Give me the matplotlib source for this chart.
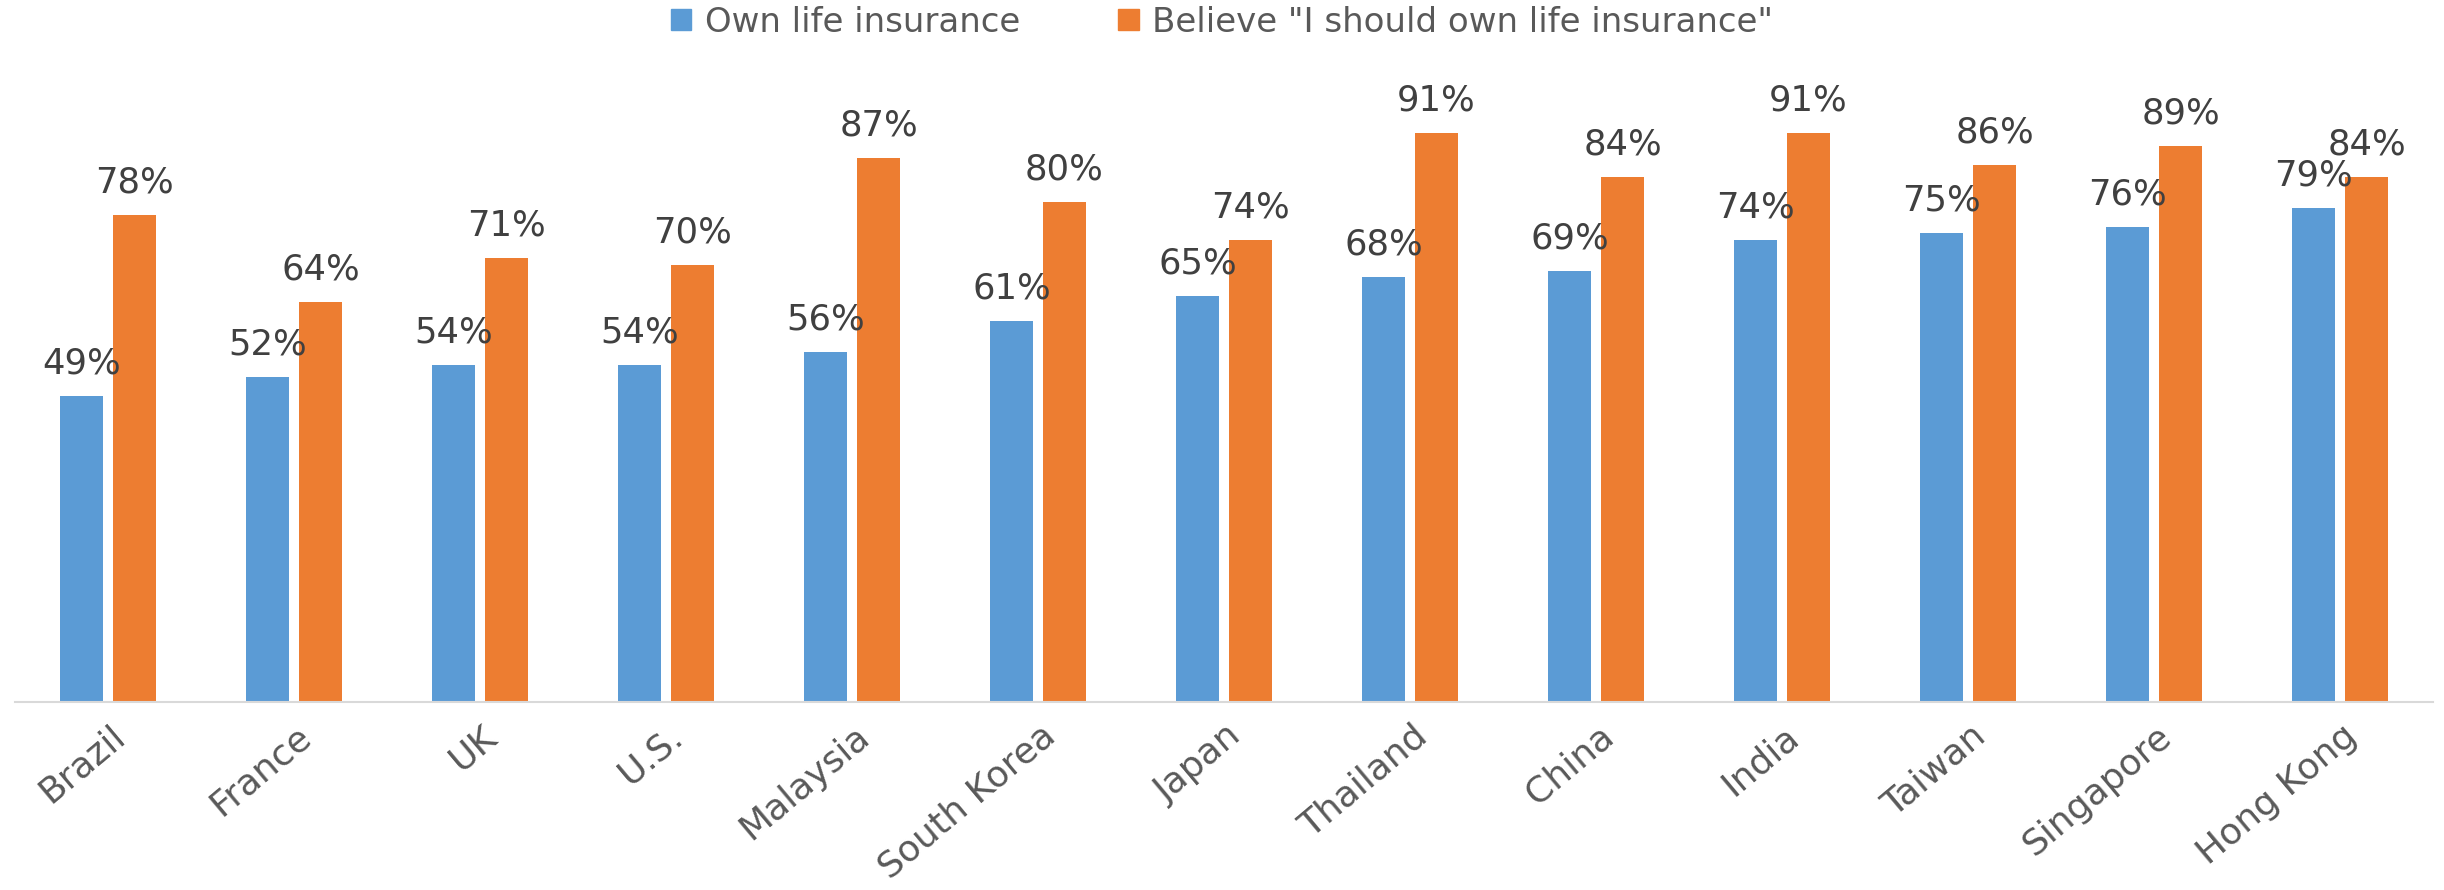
import numpy as np
import matplotlib
matplotlib.use('Agg')
from matplotlib import pyplot as plt
from matplotlib.patches import Patch
import matplotlib.transforms as mtransforms

plt.rcParams['font.family'] = ['DejaVu Sans']

countries = ['Brazil', 'France', 'UK', 'U.S.', 'Malaysia', 'South Korea', 'Japan',
             'Thailand', 'China', 'India', 'Taiwan', 'Singapore', 'Hong Kong']
own = [49, 52, 54, 54, 56, 61, 65, 68, 69, 74, 75, 76, 79]
believe = [78, 64, 71, 70, 87, 80, 74, 91, 84, 91, 86, 89, 84]
series_names = ['Own life insurance', 'Believe "I should own life insurance"']

blue = '#5B9BD5'
orange = '#ED7D31'
text_col = '#595959'

fig = plt.figure(figsize=(24.44, 8.9), dpi=100)
ax = fig.add_axes([15 / 2444, 188 / 890, 2418 / 2444, 625 / 890])

x = np.arange(len(countries))
w = 0.226
off = 0.1425
b1 = ax.bar(x - off, own, w, color=blue)
b2 = ax.bar(x + off, believe, w, color=orange)

# etiquetas de datos
ax.bar_label(b1, labels=[f'{v}%' for v in own], padding=11, fontsize=25.5, color='#404040')
ax.bar_label(b2, labels=[f'{v}%' for v in believe], padding=11, fontsize=25.5, color='#404040')

ax.set_xlim(-0.5, len(countries) - 0.5)
ax.set_ylim(0, 100)
ax.set_yticks([])
for s in ['top', 'right', 'left']:
    ax.spines[s].set_visible(False)
ax.spines['bottom'].set_color('#D9D9D9')
ax.spines['bottom'].set_linewidth(1.5)

ax.set_xticks(x)
ax.set_xticklabels(countries, rotation=40, ha='right', va='top',
                   rotation_mode='anchor', fontsize=26, color=text_col)
ax.tick_params(axis='x', length=0, pad=12)
shift = mtransforms.ScaledTranslation(2 / 100, 0, fig.dpi_scale_trans)
for lab in ax.get_xticklabels():
    lab.set_transform(lab.get_transform() + shift)

handles = [Patch(color=blue), Patch(color=orange)]
fig.legend(handles, series_names, loc='center', bbox_to_anchor=(0.5, 1 - 22 / 890),
           ncol=2, frameon=False, fontsize=24.5, labelcolor=text_col,
           handlelength=0.6, handleheight=0.6, handletextpad=0.4,
           columnspacing=2.9, borderaxespad=0)

plt.savefig('out.png', dpi=100)
